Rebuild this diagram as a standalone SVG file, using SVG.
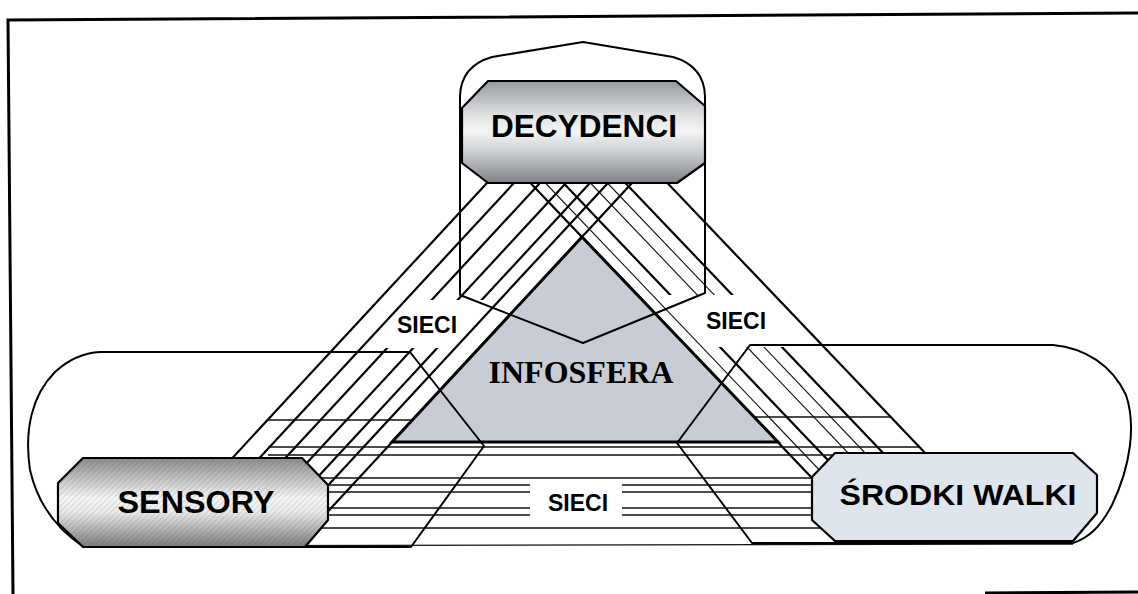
<svg xmlns="http://www.w3.org/2000/svg" width="1138" height="594" viewBox="0 0 1138 594">
  <defs>
    <linearGradient id="gDec" x1="0" y1="0" x2="0" y2="1">
      <stop offset="0" stop-color="#96999e"/>
      <stop offset="0.35" stop-color="#e2e4e6"/>
      <stop offset="0.5" stop-color="#f3f4f5"/>
      <stop offset="0.7" stop-color="#cbcdd0"/>
      <stop offset="1" stop-color="#7e8186"/>
    </linearGradient>
    <linearGradient id="gSen" x1="0" y1="0" x2="0" y2="1">
      <stop offset="0" stop-color="#8a8a8a"/>
      <stop offset="0.45" stop-color="#f6f6f6"/>
      <stop offset="0.6" stop-color="#ececec"/>
      <stop offset="1" stop-color="#7a7a7a"/>
    </linearGradient>
    <pattern id="hatch" width="4" height="4" patternUnits="userSpaceOnUse" patternTransform="rotate(45)">
      <line x1="0" y1="0" x2="0" y2="4" stroke="#444" stroke-width="1" stroke-opacity="0.3"/>
    </pattern>
    <style>
      .frame { fill: none; stroke: #000; stroke-width: 3; }
      .thick { stroke: #000; stroke-width: 2.2; fill: none; }
      .thin { stroke: #111; stroke-width: 1.1; fill: none; }
      .hline { stroke: #111; stroke-width: 1.3; fill: none; }
      .outline { fill: none; stroke: #000; stroke-width: 2; stroke-linejoin: round; }
      .box { stroke: #000; stroke-width: 2.2; stroke-linejoin: round; }
      .lbl { font-family: "Liberation Sans", Arial, sans-serif; font-weight: bold; fill: #000; text-anchor: middle; }
      .net { font-family: "Liberation Sans", Arial, sans-serif; font-weight: bold; font-size: 23px; fill: #000; text-anchor: middle; }
      .knock { fill: #fff; stroke: none; }
    </style>
  </defs>

  <rect width="1138" height="594" fill="#fff"/>

  <!-- page frame -->
  <path class="frame" d="M13,594 L8,20 L1138,13"/>
  <path class="frame" d="M985,593 L1138,592"/>

  <g id="connectors">
    <!-- left bundle: DECYDENCI - SENSORY -->
    <line class="thick" x1="499" y1="170" x2="175" y2="520"/>
    <line class="thick" x1="526" y1="170" x2="202" y2="520"/>
    <line class="thick" x1="552" y1="170" x2="228" y2="520"/>
    <line class="thick" x1="578" y1="170" x2="254" y2="520"/>
    <line class="thick" x1="602" y1="170" x2="278" y2="520"/>
    <line class="thick" x1="620" y1="170" x2="296" y2="520"/>
    <line class="thick" x1="644" y1="170" x2="320" y2="520"/>
    <!-- right bundle: DECYDENCI - SRODKI WALKI -->
    <line class="thick" x1="518" y1="170" x2="833" y2="500"/>
    <line class="thin" x1="533" y1="170" x2="848" y2="500"/>
    <line class="thick" x1="551" y1="170" x2="866" y2="500"/>
    <line class="thin" x1="578" y1="170" x2="893" y2="500"/>
    <line class="thin" x1="595" y1="170" x2="910" y2="500"/>
    <line class="thick" x1="613" y1="170" x2="928" y2="500"/>
    <line class="thick" x1="655" y1="170" x2="970" y2="500"/>
    <!-- bottom bundle: SENSORY - SRODKI WALKI -->
    <line class="hline" x1="268" y1="447" x2="919" y2="447"/>
    <line class="hline" x1="268" y1="455" x2="885" y2="455"/>
    <line class="hline" x1="320" y1="478" x2="820" y2="478"/>
    <line class="hline" x1="320" y1="485" x2="820" y2="485"/>
    <line class="hline" x1="320" y1="492" x2="820" y2="492"/>
    <line class="hline" x1="320" y1="508" x2="820" y2="508"/>
    <line class="hline" x1="320" y1="515" x2="820" y2="515"/>
    <line class="hline" x1="320" y1="528" x2="820" y2="528"/>
    <line class="hline" x1="85" y1="546" x2="1073" y2="544"/>
    <!-- cross links inside the side areas -->
    <line class="hline" x1="267" y1="420" x2="412" y2="420"/>
    <line class="hline" x1="754" y1="417" x2="891" y2="417"/>
    <!-- label gaps -->
    <polygon class="knock" points="419,300 491,300 446,348 374,348"/>
    <polygon class="knock" points="660,295 748,295 798,347 710,347"/>
    <rect class="knock" x="530" y="482" width="92" height="38"/>
    <text class="net" x="427" y="333">SIECI</text>
    <text class="net" x="736" y="329">SIECI</text>
    <text class="net" x="578" y="511">SIECI</text>
  </g>

  <g id="infosfera">
    <polygon points="582,237 392,442 778,442" fill="#c8cdd5" stroke="#000" stroke-width="3" stroke-linejoin="miter"/>
  </g>

  <!-- area outlines of the three groups -->
  <g id="area-decydenci">
    <path class="outline" d="M460,295 V96 Q461,66 492,57 L583,42 L673,57 Q704,66 705,96 V293 L583,343 Z"/>
  </g>
  <g id="area-sensory">
    <path class="outline" d="M410,352 L484,446 L411,547 L84,547 C58,530 38,505 30,470 C24,430 32,395 55,372 C68,360 82,353 100,352 Z"/>
  </g>
  <g id="area-srodki">
    <path class="outline" d="M750,345 L1053,345 C1085,348 1112,365 1126,395 C1136,425 1131,465 1112,505 C1100,528 1088,538 1073,543 L752,543 L677,443 Z"/>
  </g>

  <text x="581" y="383" font-family="'Liberation Serif', 'Times New Roman', serif" font-weight="bold" font-size="32" text-anchor="middle">INFOSFERA</text>

  <g id="decydenci">
    <polygon class="box" fill="url(#gDec)" points="488,81 676,81 705,106 705,163 677,183 488,183 462,163 462,108"/>
    <text class="lbl" x="584" y="137" font-size="31" textLength="186" lengthAdjust="spacingAndGlyphs">DECYDENCI</text>
  </g>

  <g id="sensory">
    <polygon class="box" fill="url(#gSen)" points="83,458 302,458 328,485 328,520 305,547 83,547 58,523 58,483"/>
    <polygon fill="url(#hatch)" points="83,458 302,458 328,485 328,520 305,547 83,547 58,523 58,483"/>
    <text class="lbl" x="196" y="513" font-size="32" textLength="157" lengthAdjust="spacingAndGlyphs">SENSORY</text>
  </g>

  <g id="srodki-walki">
    <polygon class="box" fill="#dfe5ec" points="835,453 1073,453 1097,475 1097,513 1073,541 835,541 812,520 812,477"/>
    <text class="lbl" x="958" y="505" font-size="30" textLength="237" lengthAdjust="spacingAndGlyphs">ŚRODKI WALKI</text>
  </g>
</svg>
